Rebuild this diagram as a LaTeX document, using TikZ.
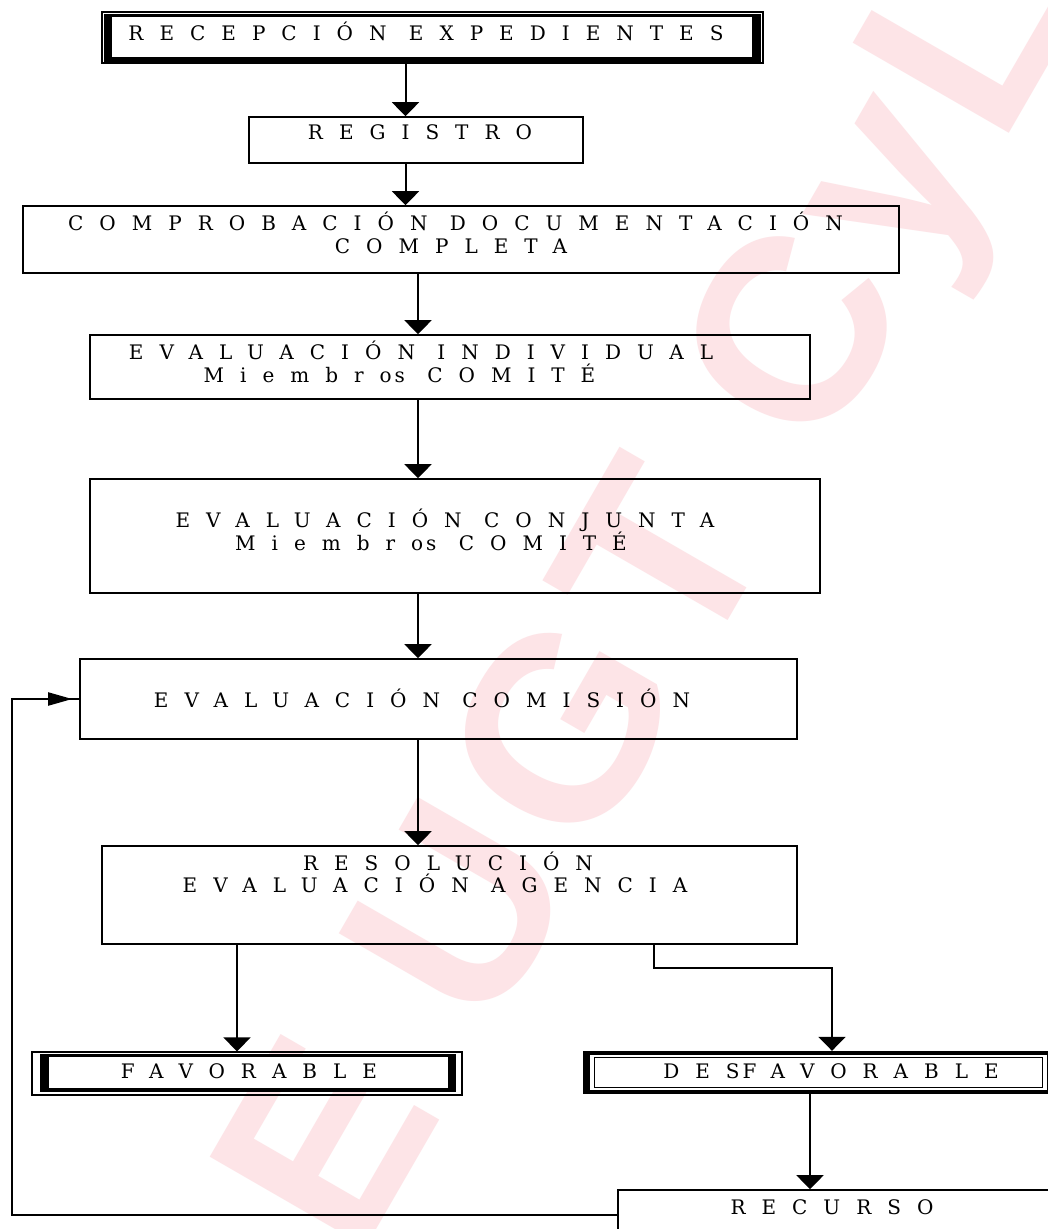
\documentclass[tikz,border=0pt]{standalone}
\usepackage{fontspec}
\newfontfamily\flowfont{DejaVu Serif}[LetterSpace=80]
\newfontfamily\wmfont{Liberation Sans}[LetterSpace=5]
\usetikzlibrary{arrows.meta,calc}
\definecolor{wmpink}{RGB}{253,228,231}
\begin{document}
\begin{tikzpicture}[x=1pt,y=-1pt,
  box/.style={draw, line width=1.6pt, inner sep=0pt, rectangle},
  txt/.style={font=\flowfont\fontsize{20pt}{23pt}\selectfont, inner sep=0pt, anchor=base},
  conn/.style={line width=2pt},
  arr/.style={conn, -{Triangle[width=27pt,length=14pt]}},
  wm/.style={font=\wmfont\bfseries\fontsize{262pt}{262pt}\selectfont, text=wmpink, inner sep=0pt}]
\fill[white] (0,0) rectangle (1048,1229);
\useasboundingbox (0,0) rectangle (1048,1229);
\clip (0,0) rectangle (1048,1229);

% watermark
\node[wm, rotate=60, anchor=base] (wmark) at (719,636) {E UGT CyL};

% boxes
\node[box, line width=1.2pt, minimum width=661pt, minimum height=51pt] (recep) at (432.5,37.5) {};
\fill ($(recep.north west)+(3,3)$) rectangle ($(recep.south east)+(-3,-2)$);
\fill[white] ($(recep.north west)+(11,6)$) rectangle ($(recep.south east)+(-12,-7)$);

\node[box, minimum width=334pt, minimum height=46pt] (reg) at (416,140) {};
\node[box, minimum width=876pt, minimum height=67pt] (comp) at (461,239.5) {};
\node[box, minimum width=720pt, minimum height=64pt] (indiv) at (450,367) {};
\node[box, minimum width=730pt, minimum height=114pt] (conj) at (455,536) {};
\node[box, minimum width=717pt, minimum height=80pt] (com) at (438.5,699) {};
\node[box, minimum width=695pt, minimum height=98pt] (resol) at (449.5,895) {};

\node[box, line width=1.2pt, minimum width=430pt, minimum height=43pt] (fav) at (247,1073.5) {};
\fill ($(fav.north west)+(9,3)$) rectangle ($(fav.south east)+(-7,-4)$);
\fill[white] ($(fav.north west)+(18,6)$) rectangle ($(fav.south east)+(-15,-8)$);

\node[inner sep=0pt, minimum width=469pt, minimum height=43pt] (desf) at (817.5,1072.5) {};
\fill (desf.north west) rectangle (desf.south east);
\fill[white] ($(desf.north west)+(7,4)$) rectangle ($(desf.south east)+(-5,-4)$);
\draw[line width=1.2pt] ($(desf.north west)+(11.5,6.5)$) rectangle ($(desf.south east)+(-9.5,-6.5)$);

\node[box, minimum width=442pt, minimum height=50pt] (recurso) at (839,1215) {};

% texts
\node[txt] (t-recep) at (426,40) {RECEPCIÓN EXPEDIENTES};
\node[txt] (t-reg) at (420,139.5) {REGISTRO};
\node[txt] (t-comp1) at (455.5,230) {COMPROBACIÓN DOCUMENTACIÓN};
\node[txt] (t-comp2) at (451,253) {COMPLETA};
\node[txt] (t-ind1) at (421,359) {EVALUACIÓN INDIVIDUAL};
\node[txt] (t-ind2) at (399.5,382) {Miembro\kern3pt s COMITÉ};
\node[txt] (t-conj1) at (445,527) {EVALUACIÓN CONJUNTA};
\node[txt] (t-conj2) at (431,550) {Miembro\kern3pt s COMITÉ};
\node[txt] (t-com) at (422,707) {EVALUACIÓN COMISIÓN};
\node[txt] (t-res1) at (448,870) {RESOLUCIÓN};
\node[txt] (t-res2) at (435,892) {EVALUACIÓN AGENCIA};
\node[txt] (t-fav) at (249,1078) {FAVORABLE};
\node[txt] (t-desf) at (831,1078) {DES\kern3pt FAVORABLE};
\node[txt] (t-rec) at (832,1214) {RECURSO};

% connectors
\coordinate (c1) at (405.5,0);
\coordinate (c2) at (418,0);
\coordinate (c3) at (237,0);
\coordinate (c4) at (654,0);
\coordinate (elb) at (832,968);
\coordinate (c6) at (810,0);
\coordinate (lp) at (12,0);

\draw[arr] (recep.south -| c1) -- (reg.north -| c1);
\draw[arr] (reg.south -| c1) -- (comp.north -| c1);
\draw[arr] (comp.south -| c2) -- (indiv.north -| c2);
\draw[arr] (indiv.south -| c2) -- (conj.north -| c2);
\draw[arr] (conj.south -| c2) -- (com.north -| c2);
\draw[arr] (com.south -| c2) -- (resol.north -| c2);
\draw[arr] (resol.south -| c3) -- (fav.north -| c3);
\draw[arr] (resol.south -| c4) |- (elb) -- (desf.north -| elb);
\draw[arr] (desf.south -| c6) -- (recurso.north -| c6);
\draw[conn] (recurso.west) -| (lp |- com.west) -- (com.west);
\draw[conn, -{Triangle[length=24pt,width=13pt]}, shorten >=7pt] (lp |- com.west) -- (com.west);
\end{tikzpicture}
\end{document}
